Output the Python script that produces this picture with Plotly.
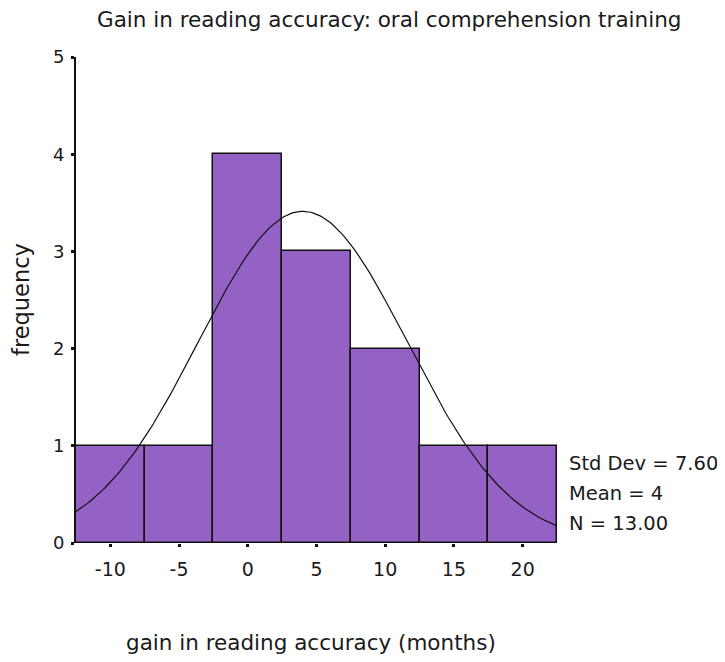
import numpy as np
import plotly.graph_objects as go

# Histogram data (bin centers, frequencies)
bin_centers = [-10, -5, 0, 5, 10, 15, 20]
frequencies = [1, 1, 4, 3, 2, 1, 1]
bin_width = 5

# Summary statistics shown on the chart
std_dev = 7.60
mean_val = 4
n_obs = 13

x_ticks = [-10, -5, 0, 5, 10, 15, 20]
y_ticks = [0, 1, 2, 3, 4, 5]

title_text = "Gain in reading accuracy: oral comprehension training"
x_title = "gain in reading accuracy (months)"
y_title = "frequency"
stats_lines = ["Std Dev = 7.60", "Mean = 4", "N = 13.00"]

FONT = "DejaVu Sans, Liberation Sans, Arial, sans-serif"
BAR_COLOR = "#9461c4"

# Fitted normal curve from the stated statistics
x_min = bin_centers[0] - bin_width / 2
x_max = bin_centers[-1] + bin_width / 2
xc = np.linspace(x_min, x_max, 200)
yc = n_obs * bin_width / (std_dev * np.sqrt(2 * np.pi)) * np.exp(-0.5 * ((xc - mean_val) / std_dev) ** 2)

fig = go.Figure()
fig.add_trace(go.Bar(
    x=bin_centers, y=frequencies, width=bin_width,
    marker=dict(color=BAR_COLOR, line=dict(color="#111111", width=1.5)),
    showlegend=False, hoverinfo="skip",
))
fig.add_trace(go.Scatter(
    x=xc, y=yc, mode="lines",
    line=dict(color="#111111", width=1.2),
    showlegend=False, hoverinfo="skip", cliponaxis=True,
))

# page body has an 8px margin, so margins are shifted by 8px
fig.update_layout(
    width=725, height=662,
    margin=dict(l=68, r=176, t=49, b=127),
    paper_bgcolor="white", plot_bgcolor="white",
    font=dict(family=FONT, size=19, color="#1a1a1a"),
    bargap=0,
    xaxis=dict(
        range=[x_min, x_max], tickvals=x_ticks,
        ticktext=[str(v) for v in x_ticks],
        showgrid=False, zeroline=False, showline=False,
        ticks="outside", ticklen=3, tickwidth=3, tickcolor="#111111",
        ticklabelstandoff=6,
        tickfont=dict(size=19),
    ),
    yaxis=dict(
        range=[0, 5], tickvals=y_ticks,
        showgrid=False, zeroline=False,
        showline=True, linecolor="#111111", linewidth=2,
        ticks="outside", ticklen=3, tickwidth=3, tickcolor="#111111",
        ticklabelstandoff=3,
        tickfont=dict(size=18),
    ),
)

annotations = [
    dict(text=title_text, xref="paper", yref="paper", x=(389 - 76) / 481, y=1.0 + (57 - 20) / 486,
         xanchor="center", yanchor="middle", showarrow=False, font=dict(size=21.5)),
    dict(text=x_title, xref="paper", yref="paper", x=(311 - 76) / 481, y=-(642 - 543) / 486,
         xanchor="center", yanchor="middle", showarrow=False, font=dict(size=21.5)),
    dict(text=y_title, xref="paper", yref="paper", x=-(76 - 21) / 481, y=0.5,
         xanchor="center", yanchor="middle", showarrow=False, textangle=-90, font=dict(size=22.5)),
]
stat_y_px = [463, 493, 523]
for line, ypx in zip(stats_lines, stat_y_px):
    annotations.append(dict(
        text=line, xref="paper", yref="paper", x=(567 - 76) / 481, y=(543 - ypx) / 486,
        xanchor="left", yanchor="middle", showarrow=False, font=dict(size=19.5),
    ))
fig.update_layout(annotations=annotations)

fig.write_html("out.html")
